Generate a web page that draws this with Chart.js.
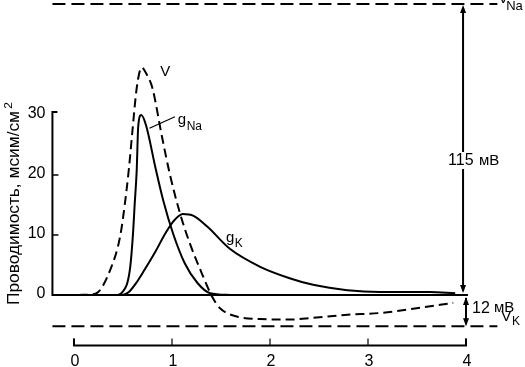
<!DOCTYPE html>
<html>
<head>
<meta charset="utf-8">
<script src="https://cdn.jsdelivr.net/npm/chart.js@4.4.1/dist/chart.umd.min.js"></script>
<style>
  body { margin: 0; background: #fff; }
  canvas { display: block; }
</style>
</head>
<body>
<canvas id="chart" width="525" height="367"></canvas>
<script>
// time in ms, values in conductance units (мсим/см2); V is scaled to the same units
const t_v = [0.05, 0.17, 0.24, 0.37, 0.47, 0.52, 0.56, 0.60, 0.64, 0.69, 0.75, 0.80, 0.90, 0.98, 1.08, 1.18, 1.32, 1.41, 1.49, 1.69, 1.90, 2.20, 2.44, 2.79, 3.12, 3.46, 3.87];
const v   = [0, 0.1, 0.4, 4.2, 9.7, 15.3, 21, 28, 34.5, 37.9, 36.5, 34.5, 26.2, 20, 13.7, 8.7, 3, -0.3, -2.2, -3.7, -4.0, -4.1, -3.8, -3.3, -3.0, -2.3, -1.3];

const t_na = [0.44, 0.49, 0.57, 0.60, 0.62, 0.64, 0.655, 0.685, 0.735, 0.83, 0.91, 1.01, 1.13, 1.26, 1.39, 1.6];
const g_na = [0, 0.4, 4.2, 9.7, 15.3, 20.8, 28, 30, 28.3, 21.3, 15.8, 10.3, 5.3, 2, 0.3, 0];

const t_k = [0.50, 0.56, 0.63, 0.72, 0.83, 0.93, 1.01, 1.11, 1.22, 1.36, 1.59, 1.90, 2.20, 2.44, 2.79, 3.12, 3.63, 3.89];
const g_k = [0, 0.5, 1.9, 4.2, 7.2, 10.2, 12.2, 13.5, 13.2, 11.4, 7.7, 4.7, 2.8, 1.7, 0.8, 0.5, 0.5, 0.3];

const v_na = 48.5;   // 115 mV above rest
const v_k = -5.2;    // 12 mV below rest
const x_ticks = [0, 1, 2, 3, 4];
const y_ticks = [0, 10, 20, 30];

const pts = (xs, ys) => xs.map((x, i) => ({ x: x, y: ys[i] }));
const flat = (y) => [{ x: -0.22, y: y }, { x: 4.32, y: y }];

const FONT = '"Liberation Sans", Arial, sans-serif';

function arrow(ctx, x, y, dir) {
    ctx.beginPath();
    ctx.moveTo(x, y);
    ctx.lineTo(x - 3, y - 8 * dir);
    ctx.lineTo(x + 3, y - 8 * dir);
    ctx.closePath();
    ctx.fill();
}

const decor = {
    id: 'decor',
    afterDatasetsDraw(chart) {
        const ctx = chart.ctx;
        const xs = chart.scales.x, ys = chart.scales.y;
        const X = (v) => xs.getPixelForValue(v);
        const Y = (v) => ys.getPixelForValue(v);
        ctx.save();
        ctx.strokeStyle = '#000';
        ctx.fillStyle = '#000';
        ctx.lineWidth = 2;

        // y axis with ticks
        const ax = X(-0.22);
        ctx.beginPath();
        ctx.moveTo(ax + 5, Y(30.5));
        ctx.lineTo(ax, Y(30.5));
        ctx.lineTo(ax, Y(0));
        ctx.lineTo(X(4.02), Y(0));
        ctx.stroke();
        ctx.lineWidth = 1.5;
        y_ticks.forEach(v => {
            if (v > 0 && v < 30) {
                ctx.beginPath();
                ctx.moveTo(ax, Y(v));
                ctx.lineTo(ax + 6, Y(v));
                ctx.stroke();
            }
        });
        ctx.font = '16px ' + FONT;
        ctx.textAlign = 'right';
        ctx.textBaseline = 'middle';
        y_ticks.forEach(v => ctx.fillText(String(v), ax - 7, Y(v) - 1));

        // x axis bracket
        const by = Y(-8.4);
        ctx.lineWidth = 2;
        ctx.beginPath();
        ctx.moveTo(X(0), by - 7);
        ctx.lineTo(X(0), by);
        ctx.lineTo(X(4), by);
        ctx.lineTo(X(4), by - 7);
        ctx.stroke();
        ctx.lineWidth = 1.2;
        x_ticks.forEach(v => {
            ctx.beginPath();
            ctx.moveTo(X(v), by);
            ctx.lineTo(X(v), by - 7);
            ctx.stroke();
        });
        ctx.textAlign = 'center';
        x_ticks.forEach(v => ctx.fillText(String(v), X(v) + 1, by + 16));

        // y title
        ctx.save();
        ctx.translate(15, 202);
        ctx.rotate(-Math.PI / 2);
        ctx.font = '16px ' + FONT;
        const main = 'Проводимость, мсим/см';
        const w = ctx.measureText(main).width;
        const k = 194 / w;
        ctx.scale(k, 1);
        ctx.textAlign = 'left';
        ctx.fillText(main, -103 / k, 0);
        ctx.font = '11px ' + FONT;
        ctx.fillText('2', -103 / k + w + 2, -6);
        ctx.restore();

        // 115 mV arrow
        const vx = X(3.97);
        ctx.lineWidth = 2;
        ctx.beginPath();
        ctx.moveTo(vx, Y(v_na) + 4);
        ctx.lineTo(vx, Y(0) - 4);
        ctx.stroke();
        arrow(ctx, vx, Y(v_na) + 1, -1);
        arrow(ctx, vx, Y(0) - 2, 1);
        const kx = X(4.0);
        ctx.beginPath();
        ctx.moveTo(kx, Y(0) + 3);
        ctx.lineTo(kx, Y(v_k) - 2);
        ctx.stroke();
        arrow(ctx, kx, Y(0) + 2, -1);
        arrow(ctx, kx, Y(v_k), 1);

        // labels
        ctx.textAlign = 'left';
        ctx.font = '16px ' + FONT;
        ctx.fillStyle = '#fff';
        ctx.fillRect(vx - 9, 152, 20, 17);
        ctx.fillStyle = '#000';
        ctx.fillText('115', vx - 15, 161);
        ctx.font = '15px ' + FONT;
        ctx.fillText('мВ', vx + 16, 161);
        ctx.font = '16px ' + FONT;
        ctx.fillText('12', kx + 6, Y(-2.2));
        ctx.font = '15px ' + FONT;
        ctx.fillText('мВ', kx + 28, Y(-2.2));

        ctx.font = '15px ' + FONT;
        ctx.fillText('V', X(4.33), -1);
        ctx.font = '13px ' + FONT;
        ctx.fillText('Na', X(4.41), 6);
        ctx.font = '15px ' + FONT;
        ctx.fillText('V', X(4.36), 317);
        ctx.font = '12px ' + FONT;
        ctx.fillText('K', X(4.47), 322);

        ctx.font = '15px ' + FONT;
        ctx.fillText('V', X(0.88), Y(37.2));
        ctx.fillText('g', X(1.06), Y(29.2));
        ctx.font = '12px ' + FONT;
        ctx.fillText('Na', X(1.15), Y(28.0));
        ctx.font = '15px ' + FONT;
        ctx.fillText('g', X(1.55), Y(9.6));
        ctx.font = '12px ' + FONT;
        ctx.fillText('K', X(1.64), Y(8.5));

        // leader line for gNa
        ctx.lineWidth = 1.2;
        ctx.beginPath();
        ctx.moveTo(X(0.77), Y(27.8));
        ctx.lineTo(X(1.03), Y(29.7));
        ctx.stroke();
        ctx.restore();
    }
};

new Chart(document.getElementById('chart'), {
    type: 'line',
    data: {
        datasets: [
            { data: pts(t_v, v), borderColor: '#000', borderWidth: 2, borderDash: [9, 5] },
            { data: pts(t_na, g_na), borderColor: '#000', borderWidth: 2 },
            { data: pts(t_k, g_k), borderColor: '#000', borderWidth: 2 },
            { data: flat(v_na), borderColor: '#000', borderWidth: 2, borderDash: [13, 6] },
            { data: flat(v_k), borderColor: '#000', borderWidth: 2, borderDash: [13, 6] }
        ]
    },
    options: {
        responsive: false,
        animation: false,
        events: [],
        layout: { padding: 0 },
        elements: { point: { radius: 0 }, line: { cubicInterpolationMode: 'monotone' } },
        plugins: { legend: { display: false }, tooltip: { enabled: false } },
        scales: {
            x: { type: 'linear', display: false, min: -0.755, max: 4.602 },
            y: { type: 'linear', display: false, min: -12, max: 49.17 }
        }
    },
    plugins: [decor]
});
</script>
</body>
</html>
